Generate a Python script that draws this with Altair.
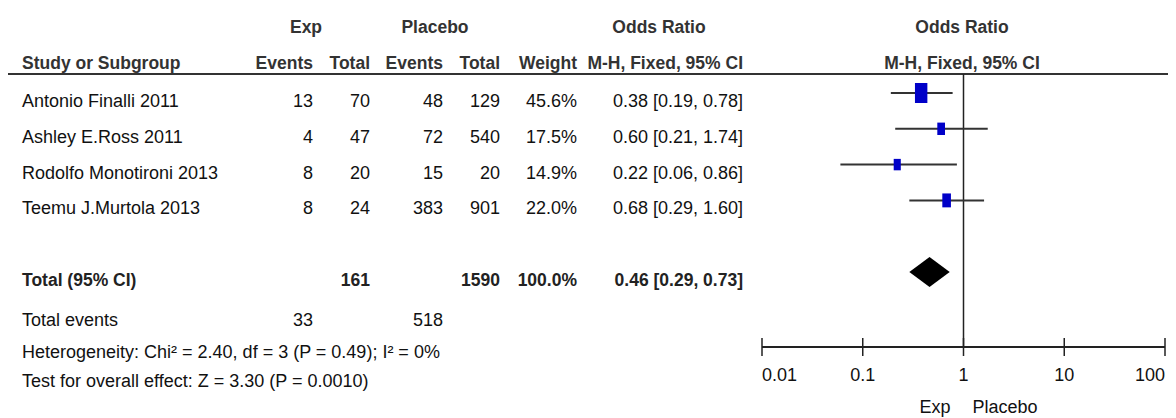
import altair as alt
import pandas as pd

# ---------------- data ----------------
studies = ["Antonio Finalli 2011", "Ashley E.Ross 2011", "Rodolfo Monotironi 2013", "Teemu J.Murtola 2013"]
exp_events = [13, 4, 8, 8]
exp_total = [70, 47, 20, 24]
pl_events = [48, 72, 15, 383]
pl_total = [129, 540, 20, 901]
weights = [45.6, 17.5, 14.9, 22.0]
or_est = [0.38, 0.60, 0.22, 0.68]
or_lo = [0.19, 0.21, 0.06, 0.29]
or_hi = [0.78, 1.74, 0.86, 1.60]

total_exp = 161
total_pl = 1590
total_weight = 100.0
total_est, total_lo, total_hi = 0.46, 0.29, 0.73
total_events_exp = 33
total_events_pl = 518
heterogeneity = "Heterogeneity: Chi² = 2.40, df = 3 (P = 0.49); I² = 0%"
overall = "Test for overall effect: Z = 3.30 (P = 0.0010)"

tick_values = [0.01, 0.1, 1, 10, 100]
tick_labels = ["0.01", "0.1", "1", "10", "100"]

# ---------------- styling / layout ----------------
FONT = "Liberation Sans Narrow, Arial Narrow, Liberation Sans, Arial, sans-serif"
FS = 18
FSB = 17.5
TXT = "#111111"
HDR = "#333333"
W, H = 1160, 410
TOTAL_ROW = 5
DY = 14
xscale = alt.Scale(type="log", domain=[0.01, 100], range=[754, 1157], nice=False)
yscale = alt.Scale(domain=[0, TOTAL_ROW], range=[85, 264], nice=False, zero=False)

df = pd.DataFrame({
    "study": studies,
    "ee": [str(v) for v in exp_events],
    "et": [str(v) for v in exp_total],
    "pe": [str(v) for v in pl_events],
    "pt": [str(v) for v in pl_total],
    "w": weights,
    "wtxt": [f"{v:.1f}%" for v in weights],
    "est": or_est,
    "lo": or_lo,
    "hi": or_hi,
    "ci": [f"{e:.2f} [{l:.2f}, {h:.2f}]" for e, l, h in zip(or_est, or_lo, or_hi)],
    "row": list(range(len(studies))),
})

tot = pd.DataFrame({
    "row": [TOTAL_ROW],
    "label": ["Total (95% CI)"],
    "et": [str(total_exp)],
    "pt": [str(total_pl)],
    "wtxt": [f"{total_weight:.1f}%"],
    "ci": [f"{total_est:.2f} [{total_lo:.2f}, {total_hi:.2f}]"],
})

one = pd.DataFrame({"a": [0]})


def label(txt, x, y, align="left", bold=False, color=TXT):
    return alt.Chart(one).mark_text(
        text=txt, align=align, baseline="alphabetic", font=FONT,
        fontSize=FSB if bold else FS,
        fontWeight="bold" if bold else "normal", color=color,
    ).encode(x=alt.value(x), y=alt.value(y))


def col(data, field, x, align="right", bold=False):
    return alt.Chart(data).mark_text(
        align=align, baseline="alphabetic", dy=DY, font=FONT,
        fontSize=FSB if bold else FS,
        fontWeight="bold" if bold else "normal", color=TXT if not bold else "#222222",
    ).encode(
        x=alt.value(x),
        y=alt.Y("row:Q", scale=yscale, axis=None),
        text=alt.Text(f"{field}:N"),
    )


layers = []

# headers
layers += [
    label("Exp", 298, 25, "center", True, HDR),
    label("Placebo", 427, 25, "center", True, HDR),
    label("Odds Ratio", 651, 25, "center", True, HDR),
    label("Odds Ratio", 954, 25, "center", True, HDR),
    label("Study or Subgroup", 14, 61, "left", True, HDR),
    label("Events", 305, 61, "right", True, HDR),
    label("Total", 362, 61, "right", True, HDR),
    label("Events", 435, 61, "right", True, HDR),
    label("Total", 492, 61, "right", True, HDR),
    label("Weight", 569, 61, "right", True, HDR),
    label("M-H, Fixed, 95% CI", 735, 61, "right", True, HDR),
    label("M-H, Fixed, 95% CI", 954, 61, "center", True, HDR),
]

# header rule
layers.append(
    alt.Chart(one).mark_rule(color="#333333", strokeWidth=2).encode(
        x=alt.value(0), x2=alt.value(W), y=alt.value(66)
    )
)

# study table
layers += [
    col(df, "study", 14, "left"),
    col(df, "ee", 305),
    col(df, "et", 362),
    col(df, "pe", 435),
    col(df, "pt", 492),
    col(df, "wtxt", 569),
    col(df, "ci", 735),
]

# total row
layers += [
    col(tot, "label", 14, "left", True),
    col(tot, "et", 362, bold=True),
    col(tot, "pt", 492, bold=True),
    col(tot, "wtxt", 569, bold=True),
    col(tot, "ci", 735, bold=True),
]

# footer
layers += [
    label("Total events", 14, 318),
    label(str(total_events_exp), 305, 318, "right"),
    label(str(total_events_pl), 435, 318, "right"),
    label(heterogeneity, 14, 350),
    label(overall, 14, 379),
]

# line of no effect
layers.append(
    alt.Chart(pd.DataFrame({"v": [1]})).mark_rule(color="#222222", strokeWidth=1.5).encode(
        x=alt.X("v:Q", scale=xscale, axis=None), y=alt.value(66), y2=alt.value(339)
    )
)

# CI whiskers
layers.append(
    alt.Chart(df).mark_rule(color="#333333", strokeWidth=2).encode(
        x=alt.X("lo:Q", scale=xscale, axis=None), x2="hi:Q",
        y=alt.Y("row:Q", scale=yscale, axis=None),
    )
)

# weighted squares
layers.append(
    alt.Chart(df).mark_point(
        shape="M-0.62,-1L0.62,-1L0.62,1L-0.62,1Z", filled=True, opacity=1,
        color="#0000C8",
    ).encode(
        x=alt.X("est:Q", scale=xscale, axis=None),
        y=alt.Y("row:Q", scale=yscale, axis=None),
        size=alt.Size("w:Q", scale=alt.Scale(domain=[0, 100], range=[0, 880]), legend=None),
    )
)

# pooled diamond
HALF = 0.42
dia = pd.DataFrame({
    "x": [total_lo, total_est, total_hi],
    "y": [TOTAL_ROW, TOTAL_ROW - HALF, TOTAL_ROW],
    "y2": [TOTAL_ROW, TOTAL_ROW + HALF, TOTAL_ROW],
})
layers.append(
    alt.Chart(dia).mark_area(color="black", opacity=1).encode(
        x=alt.X("x:Q", scale=xscale, axis=None),
        y=alt.Y("y:Q", scale=yscale, axis=None),
        y2="y2:Q",
    )
)

# forest axis
layers.append(
    alt.Chart(pd.DataFrame({"lo": [tick_values[0]], "hi": [tick_values[-1]]})).mark_rule(
        color="#222222", strokeWidth=2
    ).encode(x=alt.X("lo:Q", scale=xscale, axis=None), x2="hi:Q", y=alt.value(339))
)
ticks = pd.DataFrame({"t": tick_values, "lab": tick_labels, "i": list(range(len(tick_values)))})
layers.append(
    alt.Chart(ticks).mark_rule(color="#222222", strokeWidth=1.5).encode(
        x=alt.X("t:Q", scale=xscale, axis=None), y=alt.value(330), y2=alt.value(348)
    )
)
for flt, al in [("datum.i == 0", "left"), ("datum.i > 0 && datum.i < 4", "center"), ("datum.i == 4", "right")]:
    layers.append(
        alt.Chart(ticks).transform_filter(flt).mark_text(
            align=al, baseline="alphabetic", font=FONT, fontSize=FS, color=TXT
        ).encode(x=alt.X("t:Q", scale=xscale, axis=None), y=alt.value(373), text="lab:N")
    )

one_df = pd.DataFrame({"v": [1]})
layers.append(
    alt.Chart(one_df).mark_text(text="Exp", align="right", dx=-13, baseline="alphabetic",
                                font=FONT, fontSize=FS, color=TXT).encode(
        x=alt.X("v:Q", scale=xscale, axis=None), y=alt.value(405))
)
layers.append(
    alt.Chart(one_df).mark_text(text="Placebo", align="left", dx=9, baseline="alphabetic",
                                font=FONT, fontSize=FS, color=TXT).encode(
        x=alt.X("v:Q", scale=xscale, axis=None), y=alt.value(405))
)

chart = alt.layer(*layers).properties(
    width=W, height=H, padding=0, autosize="none", background="white"
).configure_view(stroke=None)

chart.save("out.html", embed_options={"renderer": "svg", "actions": False})
